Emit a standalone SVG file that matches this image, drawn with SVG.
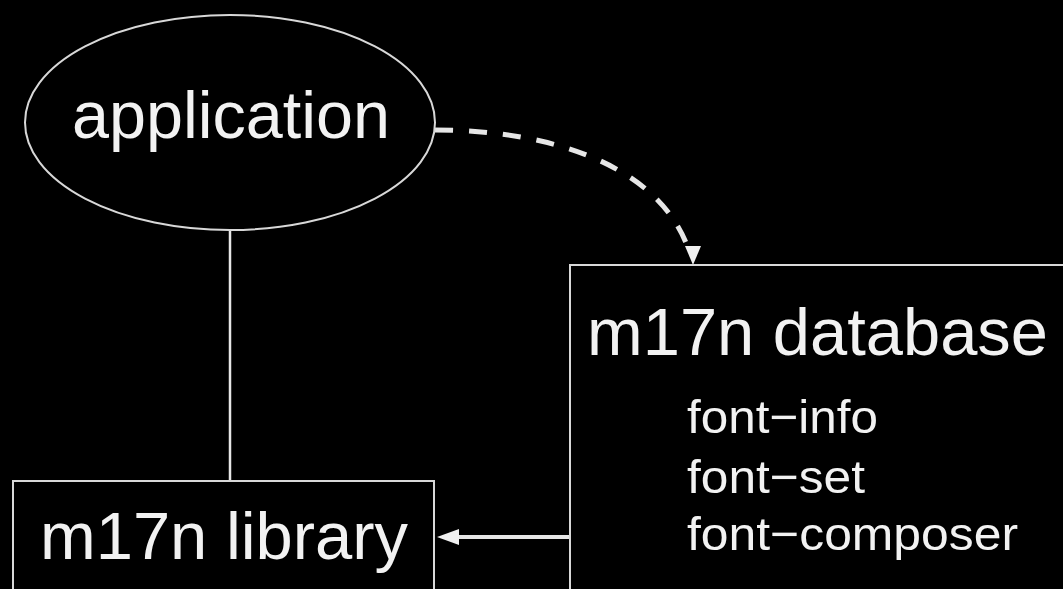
<svg xmlns="http://www.w3.org/2000/svg" width="1063" height="589" viewBox="0 0 1063 589">
<style>
.shape{fill:#000;stroke:#d8d8d8;stroke-width:2}
.big{font-family:"Liberation Sans",Arial,sans-serif;font-size:66px;fill:#f2f2f2}
.small{font-family:"Liberation Sans",Arial,sans-serif;font-size:47px;fill:#f2f2f2}
.conn{fill:none;stroke:#e6e6e6}
</style>
<defs>
<marker id="ah" viewBox="0 0 10 10" refX="10" refY="5" markerWidth="5" markerHeight="4" markerUnits="userSpaceOnUse" orient="auto">
<path d="M0,0 L10,5 L0,10 Z" fill="#f0f0f0"/>
</marker>
<marker id="ah2" viewBox="0 0 10 10" refX="10" refY="5" markerWidth="21" markerHeight="16" markerUnits="userSpaceOnUse" orient="auto">
<path d="M0,0 L10,5 L0,10 Z" fill="#f0f0f0"/>
</marker>
</defs>
<rect width="1063" height="589" fill="#000"/>
<g id="connectors">
<line class="conn" x1="230" y1="230" x2="230" y2="481" stroke-width="2.5"/>
<path class="conn" d="M435,130 C560,130 660,170 688,248" stroke-width="5" stroke-dasharray="18 16"/>
<path d="M685,246 L701,246 L693,265 Z" fill="#f0f0f0"/>
<line class="conn" x1="570" y1="537" x2="455" y2="537" stroke-width="4"/>
<path d="M437,537 L459,529 L459,545 Z" fill="#f0f0f0"/>
</g>
<g id="application">
<ellipse class="shape" cx="230" cy="122.5" rx="205" ry="107.5"/>
<text class="big" x="231" y="138" text-anchor="middle" textLength="318" lengthAdjust="spacingAndGlyphs">application</text>
</g>
<g id="library">
<rect class="shape" x="13" y="481" width="421" height="130"/>
<text class="big" x="40" y="559" textLength="368" lengthAdjust="spacingAndGlyphs">m17n library</text>
</g>
<g id="database">
<rect class="shape" x="570" y="265" width="510" height="340"/>
<text class="big" x="587" y="355" textLength="461" lengthAdjust="spacingAndGlyphs">m17n database</text>
<text class="small" x="687" y="433" textLength="191" lengthAdjust="spacingAndGlyphs">font−info</text>
<text class="small" x="687" y="493" textLength="178" lengthAdjust="spacingAndGlyphs">font−set</text>
<text class="small" x="687" y="550" textLength="331" lengthAdjust="spacingAndGlyphs">font−composer</text>
</g>
</svg>
